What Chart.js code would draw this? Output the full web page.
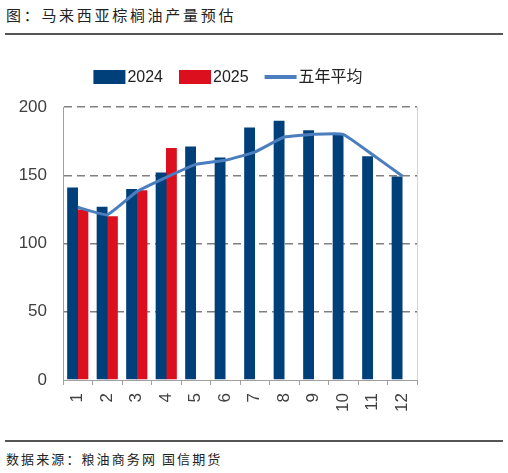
<!DOCTYPE html>
<html>
<head>
<meta charset="utf-8">
<script src="https://cdn.jsdelivr.net/npm/chart.js@4.4.1/dist/chart.umd.min.js"></script>
<style>
  html, body { margin: 0; padding: 0; background: #fff; }
  body { width: 508px; height: 473px; position: relative; overflow: hidden; font-family: "Noto Sans CJK SC", sans-serif; }
  .title { position: absolute; left: 6px; top: 4px; font-size: 15px; letter-spacing: 2.7px; color: #222; }
  .rule { position: absolute; left: 5px; width: 498px; height: 1.5px; background: #555; }
  .source { position: absolute; left: 6px; top: 449px; font-size: 13px; letter-spacing: 2.1px; color: #222; }
  #wrap { position: absolute; left: 0; top: 40px; width: 440px; height: 390px; }
</style>
</head>
<body>
<div class="title">图：马来西亚棕榈油产量预估</div>
<div class="rule" style="top:33px"></div>
<div id="wrap"><canvas id="chart"></canvas></div>
<div class="rule" style="top:440px"></div>
<div class="source">数据来源：粮油商务网 国信期货</div>
<script>
const months = ['1', '2', '3', '4', '5', '6', '7', '8', '9', '10', '11', '12'];
const output2024 = [141, 127, 140, 152, 171, 163, 185, 190, 183, 181, 164, 149];
const output2025 = [125, 120, 139, 170, null, null, null, null, null, null, null, null];
const fiveYearAvg = [126.5, 121, 138, 148.5, 158, 161, 167, 178, 180, 180, 165, 149.5];
const yTicks = [0, 50, 100, 150, 200];

const tickFont = { family: "'Liberation Sans', Arial, sans-serif", size: 17 };

// light frame line on the right edge of the plot
const rightEdge = {
    id: 'rightEdge',
    afterDraw(chart) {
        const { ctx, chartArea } = chart;
        ctx.save();
        ctx.strokeStyle = '#d4d4d4';
        ctx.lineWidth = 1;
        ctx.beginPath();
        ctx.moveTo(chartArea.right + 0.5, chartArea.top);
        ctx.lineTo(chartArea.right + 0.5, chartArea.bottom);
        ctx.stroke();
        ctx.restore();
    }
};

// compact legend like the Excel one: swatch, tight gap, label
const topLegend = {
    id: 'topLegend',
    afterDraw(chart) {
        const { ctx } = chart;
        const sw = 32, sh = 14, gap = 2, itemGap = 16, cy = 37;
        ctx.save();
        ctx.font = "16px 'Liberation Sans', 'Noto Sans CJK SC', sans-serif";
        ctx.textBaseline = 'middle';
        const items = chart.data.datasets.map(ds => ({ ds, w: sw + gap + ctx.measureText(ds.label).width }));
        const total = items.reduce((a, it) => a + it.w, 0) + itemGap * (items.length - 1);
        let x = 228 - total / 2;
        items.forEach(({ ds, w }) => {
            if (ds.type === 'line') {
                ctx.strokeStyle = ds.borderColor;
                ctx.lineWidth = 4;
                ctx.beginPath();
                ctx.moveTo(x, cy);
                ctx.lineTo(x + sw, cy);
                ctx.stroke();
            } else {
                ctx.fillStyle = ds.backgroundColor;
                ctx.fillRect(x, cy - sh / 2, sw, sh);
            }
            ctx.fillStyle = '#222';
            ctx.fillText(ds.label, x + sw + gap, cy + 1);
            x += w + itemGap;
        });
        ctx.restore();
    }
};

new Chart(document.getElementById('chart'), {
    type: 'bar',
    data: {
        labels: months,
        datasets: [
            {
                label: '2024',
                data: output2024,
                backgroundColor: '#00407a',
                categoryPercentage: 0.7,
                barPercentage: 1.05,
                order: 1
            },
            {
                label: '2025',
                data: output2025,
                backgroundColor: '#dc0f1e',
                categoryPercentage: 0.7,
                barPercentage: 1.05,
                order: 1
            },
            {
                type: 'line',
                label: '五年平均',
                data: fiveYearAvg,
                borderColor: '#4a7ebf',
                backgroundColor: '#4a7ebf',
                borderWidth: 3,
                pointRadius: 0,
                tension: 0.1,
                order: 0
            }
        ]
    },
    options: {
        responsive: true,
        maintainAspectRatio: false,
        animation: false,
        layout: { padding: { left: 0, right: 23, top: 67, bottom: 0 } },
        plugins: {
            tooltip: { enabled: false },
            legend: { display: false }
        },
        scales: {
            x: {
                offset: true,
                grid: { display: true, drawOnChartArea: false, drawTicks: true, tickLength: 5, color: '#a0a0a0', offset: true },
                border: { display: true, color: '#a0a0a0', width: 1 },
                ticks: { color: '#404040', font: tickFont, minRotation: 90, maxRotation: 90, padding: 8 },
                afterFit: (s) => { s.height = 50; }
            },
            y: {
                min: 0,
                max: 200,
                afterBuildTicks: (s) => { s.ticks = yTicks.map(v => ({ value: v })); },
                grid: {
                    drawTicks: false,
                    color: (c) => c.tick && c.tick.value === 0 ? 'rgba(0,0,0,0)' : '#808080',
                    lineWidth: 1.5
                },
                border: { display: true, color: '#a0a0a0', width: 1, dash: [8, 5] },
                ticks: { color: '#404040', font: tickFont, padding: 16 },
                afterFit: (s) => { s.width = 63; }
            }
        }
    },
    plugins: [rightEdge, topLegend]
});
</script>
</body>
</html>
